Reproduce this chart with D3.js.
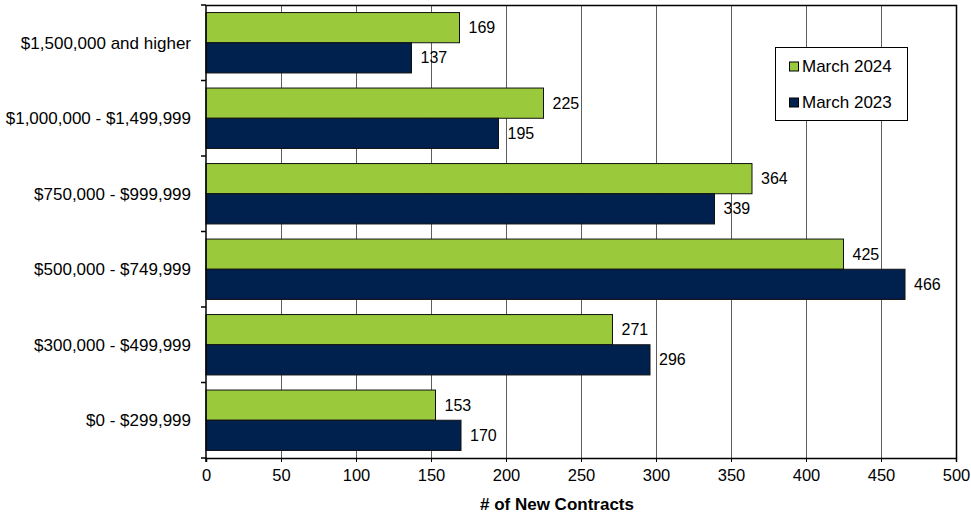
<!DOCTYPE html>
<meta charset="utf-8">
<head>
    <script src="https://d3js.org/d3.v7.min.js"></script>
    <style>
        body { margin: 0; background: #fff; }
        text { font-family: "Liberation Sans", Arial, sans-serif; fill: #000; }
    </style>
</head>
<body>
    <svg width="971" height="516"></svg>
    <script>
        // data
        var categories = ["$1,500,000 and higher", "$1,000,000 - $1,499,999", "$750,000 - $999,999",
            "$500,000 - $749,999", "$300,000 - $499,999", "$0 - $299,999"];
        var seriesNames = ["March 2024", "March 2023"];
        var march2024 = [169, 225, 364, 425, 271, 153];
        var march2023 = [137, 195, 339, 466, 296, 170];
        var xTicks = [0, 50, 100, 150, 200, 250, 300, 350, 400, 450, 500];
        var colors = ["#9aca3c", "#00204e"];

        var svg = d3.select("svg"),
            plotL = 206, plotR = 956, plotT = 5, plotB = 458;

        var x = d3.scaleLinear().domain([0, 500]).range([plotL, plotR]);
        var y = d3.scaleBand().domain(categories).range([plotT, plotB])
            .paddingInner(0.2).paddingOuter(0.1);
        var y1 = d3.scaleBand().domain(seriesNames).range([0, y.bandwidth()]);

        var rows = categories.map(function (c, i) {
            return { cat: c, vals: [march2024[i], march2023[i]] };
        });

        // gridlines
        svg.append("g").selectAll("line")
            .data(xTicks.filter(function (d) { return d > 0 && d < 500; }))
            .enter().append("line")
            .attr("x1", function (d) { return Math.round(x(d)) + 0.5; })
            .attr("x2", function (d) { return Math.round(x(d)) + 0.5; })
            .attr("y1", plotT).attr("y2", plotB)
            .attr("stroke", "#5e5e5e").attr("stroke-width", 1);

        // frame: top and right
        svg.append("path")
            .attr("d", "M" + plotL + "," + (plotT + 0.5) + "H" + (plotR + 0.5) + "V" + plotB)
            .attr("fill", "none").attr("stroke", "#000").attr("stroke-width", 1.5);

        // bars
        var grp = svg.append("g").selectAll("g")
            .data(rows)
            .enter().append("g")
            .attr("transform", function (d) { return "translate(0," + y(d.cat) + ")"; });

        grp.selectAll("rect")
            .data(function (d) { return d.vals.map(function (v, j) { return { v: v, s: seriesNames[j], j: j }; }); })
            .enter().append("rect")
            .attr("x", x(0))
            .attr("y", function (d) { return y1(d.s); })
            .attr("width", function (d) { return x(d.v) - x(0); })
            .attr("height", y1.bandwidth())
            .attr("fill", function (d) { return colors[d.j]; })
            .attr("stroke", "#111").attr("stroke-width", 1);

        grp.selectAll("text")
            .data(function (d) { return d.vals.map(function (v, j) { return { v: v, s: seriesNames[j] }; }); })
            .enter().append("text")
            .attr("x", function (d) { return x(d.v) + 9; })
            .attr("y", function (d) { return y1(d.s) + y1.bandwidth() / 2; })
            .attr("dy", "0.35em")
            .style("font-size", "16px")
            .text(function (d) { return d.v; });

        // x axis
        var xAxis = svg.append("g")
            .attr("transform", "translate(0," + plotB + ")")
            .call(d3.axisBottom(x).tickValues(xTicks).tickSize(4).tickPadding(7));
        xAxis.select(".domain").attr("stroke", "#000").attr("stroke-width", 1.5);
        xAxis.selectAll("text").style("font-size", "16.5px").style("font-family", "Liberation Sans, Arial, sans-serif");

        // y axis
        var yTickPos = d3.range(categories.length + 1).map(function (i) {
            return plotT + (plotB - plotT) / categories.length * i;
        });
        svg.append("line")
            .attr("x1", plotL).attr("x2", plotL).attr("y1", plotT).attr("y2", plotB + 4)
            .attr("stroke", "#000").attr("stroke-width", 1.5);
        svg.append("g").selectAll("line")
            .data(yTickPos)
            .enter().append("line")
            .attr("x1", plotL - 5).attr("x2", plotL)
            .attr("y1", function (d) { return d; }).attr("y2", function (d) { return d; })
            .attr("stroke", "#000").attr("stroke-width", 1.5);
        svg.append("g").selectAll("text")
            .data(categories)
            .enter().append("text")
            .attr("x", plotL - 15)
            .attr("y", function (d) { return y(d) + y.bandwidth() / 2; })
            .attr("dy", "0.35em")
            .attr("text-anchor", "end")
            .style("font-size", "17px")
            .text(function (d) { return d; });

        // axis title
        svg.append("text")
            .attr("x", 557).attr("y", 510)
            .attr("text-anchor", "middle")
            .style("font-size", "17px").style("font-weight", "bold")
            .text("# of New Contracts");

        // legend
        var legend = svg.append("g").attr("transform", "translate(775,47)");
        legend.append("rect")
            .attr("x", 0.5).attr("y", 0.5).attr("width", 132).attr("height", 73)
            .attr("fill", "#fff").attr("stroke", "#000").attr("stroke-width", 1);
        var li = legend.selectAll(".li")
            .data(seriesNames)
            .enter().append("g")
            .attr("class", "li")
            .attr("transform", function (d, i) { return "translate(0," + (19.5 + i * 36) + ")"; });
        li.append("rect")
            .attr("x", 14.5).attr("y", -4.5).attr("width", 9).attr("height", 9)
            .attr("fill", function (d, i) { return colors[i]; })
            .attr("stroke", "#000").attr("stroke-width", 1);
        li.append("text")
            .attr("x", 27).attr("dy", "0.35em")
            .style("font-size", "17px")
            .text(function (d) { return d; });
    </script>
</body>
